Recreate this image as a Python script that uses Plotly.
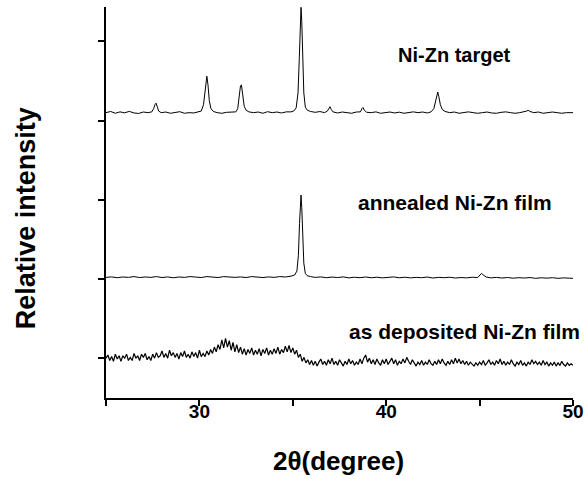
import plotly.graph_objects as go

# ---------------- data ----------------
# Ni-Zn target pattern (offset stack level ~3.1)
target_x = [25.0, 25.25, 25.5, 25.75, 26.0, 26.25, 26.5, 26.75, 27.0, 27.25, 27.45, 27.55, 27.62, 27.68, 27.75, 27.82, 27.95,
            28.2, 28.45, 28.7, 28.95, 29.2, 29.45, 29.7, 29.95, 30.1, 30.22, 30.3, 30.36, 30.4, 30.46, 30.53, 30.62, 30.75, 30.95,
            31.2, 31.45, 31.7, 31.95, 32.05, 32.13, 32.2, 32.25, 32.31, 32.4, 32.5, 32.65, 32.9, 33.15, 33.4, 33.65, 33.9,
            34.15, 34.4, 34.65, 34.9, 35.05, 35.18, 35.28, 35.35, 35.41, 35.44, 35.48, 35.53, 35.59, 35.67, 35.78, 35.95,
            36.2, 36.45, 36.7, 36.85, 36.93, 36.99, 37.06, 37.15, 37.4, 37.65, 37.9, 38.15, 38.4, 38.62, 38.7, 38.76, 38.83, 38.95,
            39.2, 39.45, 39.7, 39.95, 40.2, 40.45, 40.7, 40.95, 41.2, 41.45, 41.7, 41.95, 42.2, 42.4, 42.55, 42.65, 42.72, 42.76,
            42.82, 42.9, 43.0, 43.15, 43.4, 43.65, 43.9, 44.15, 44.4, 44.65, 44.9, 45.15, 45.4, 45.65, 45.9, 46.15, 46.4, 46.65,
            46.9, 47.15, 47.4, 47.52, 47.6, 47.7, 47.9, 48.15, 48.4, 48.65, 48.9, 49.15, 49.4, 49.65, 49.9, 50.0]
target_y = [3.10, 3.115, 3.092, 3.11, 3.098, 3.116, 3.096, 3.09, 3.108, 3.10, 3.11, 3.15, 3.20, 3.22, 3.17, 3.12, 3.10,
            3.108, 3.092, 3.104, 3.112, 3.092, 3.10, 3.096, 3.108, 3.12, 3.20, 3.40, 3.54, 3.56, 3.45, 3.25, 3.15, 3.115, 3.10,
            3.092, 3.104, 3.108, 3.11, 3.15, 3.30, 3.44, 3.45, 3.33, 3.18, 3.13, 3.11, 3.10, 3.108, 3.092, 3.112, 3.10,
            3.108, 3.096, 3.11, 3.11, 3.12, 3.16, 3.35, 3.80, 4.30, 4.43, 4.25, 3.75, 3.35, 3.17, 3.13, 3.115,
            3.104, 3.114, 3.10, 3.12, 3.16, 3.175, 3.14, 3.11, 3.096, 3.108, 3.10, 3.092, 3.108, 3.11, 3.15, 3.165, 3.13, 3.105,
            3.10, 3.11, 3.092, 3.10, 3.108, 3.096, 3.106, 3.092, 3.10, 3.11, 3.10, 3.108, 3.096, 3.11, 3.15, 3.25, 3.34, 3.36,
            3.30, 3.20, 3.14, 3.115, 3.10, 3.108, 3.092, 3.10, 3.11, 3.10, 3.092, 3.10, 3.108, 3.096, 3.092, 3.104, 3.11, 3.10,
            3.092, 3.10, 3.108, 3.12, 3.13, 3.115, 3.10, 3.108, 3.092, 3.10, 3.108, 3.10, 3.092, 3.10, 3.106, 3.10]

# annealed Ni-Zn film (offset stack level ~1.02)
anneal_x = [25.0, 25.3, 25.6, 25.9, 26.2, 26.5, 26.8, 27.1, 27.4, 27.7, 28.0, 28.3, 28.6, 28.9, 29.2, 29.5, 29.8, 30.1,
            30.4, 30.7, 31.0, 31.3, 31.6, 31.9, 32.2, 32.5, 32.8, 33.1, 33.4, 33.7, 34.0, 34.3, 34.6, 34.9, 35.1, 35.22,
            35.3, 35.36, 35.41, 35.44, 35.48, 35.53, 35.59, 35.67, 35.78, 35.95, 36.2, 36.5, 36.8, 37.1, 37.4, 37.7, 38.0,
            38.3, 38.6, 38.9, 39.2, 39.5, 39.8, 40.1, 40.4, 40.7, 41.0, 41.3, 41.6, 41.9, 42.2, 42.5, 42.8, 43.1, 43.4, 43.7,
            44.0, 44.3, 44.6, 44.9, 45.0, 45.1, 45.2, 45.35, 45.6, 45.9, 46.2, 46.5, 46.8, 47.1, 47.4, 47.7, 48.0, 48.3,
            48.6, 48.9, 49.2, 49.5, 49.8, 50.0]
anneal_y = [1.02, 1.026, 1.016, 1.025, 1.02, 1.03, 1.018, 1.025, 1.02, 1.03, 1.018, 1.026, 1.015, 1.025, 1.02, 1.03, 1.024, 1.018,
            1.03, 1.024, 1.018, 1.03, 1.025, 1.02, 1.026, 1.018, 1.03, 1.024, 1.018, 1.026, 1.02, 1.03, 1.025, 1.035, 1.05, 1.10,
            1.30, 1.70, 2.00, 2.06, 1.90, 1.50, 1.20, 1.07, 1.04, 1.03, 1.02, 1.026, 1.016, 1.024, 1.018, 1.026, 1.014,
            1.022, 1.016, 1.025, 1.015, 1.022, 1.014, 1.02, 1.026, 1.015, 1.022, 1.014, 1.02, 1.016, 1.024, 1.012, 1.02, 1.016,
            1.022, 1.012, 1.018, 1.014, 1.022, 1.018, 1.045, 1.07, 1.05, 1.025, 1.014, 1.02, 1.012, 1.018, 1.01, 1.016, 1.012,
            1.018, 1.008, 1.015, 1.01, 1.016, 1.008, 1.014, 1.01, 1.008]

# as deposited Ni-Zn film, sampled every 0.1 deg from 25.0 to 50.0
dep_start = 25.0
dep_step = 0.1
dep_y = [
    0.00, 0.04, -0.03, 0.02, -0.04, 0.05, -0.01, 0.03, -0.04, 0.03,
    0.00, 0.05, -0.03, 0.01, -0.03, 0.06, 0.00, 0.03, -0.03, 0.05,
    0.01, 0.06, -0.02, 0.02, -0.03, 0.05, 0.00, 0.07, 0.01, 0.03,
    0.09, 0.01, 0.06, 0.00, 0.10, 0.03, 0.07, 0.01, 0.06, -0.01,
    0.07, 0.02, 0.09, 0.01, 0.05, 0.00, 0.08, 0.02, 0.07, 0.00,
    0.10, 0.02, 0.06, 0.02, 0.09, 0.04, 0.11, 0.06, 0.14, 0.08,
    0.17, 0.11, 0.23, 0.13, 0.25, 0.14, 0.22, 0.10, 0.20, 0.08,
    0.17, 0.07, 0.14, 0.05, 0.12, 0.04, 0.11, 0.06, 0.13, 0.04,
    0.10, 0.05, 0.12, 0.03, 0.11, 0.06, 0.13, 0.04, 0.10, 0.05,
    0.12, 0.06, 0.14, 0.05, 0.11, 0.07, 0.15, 0.08, 0.16, 0.07,
    0.13, 0.05, 0.10, 0.01, 0.05, -0.04, 0.01, -0.06, -0.02, -0.08,
    -0.03, -0.09, -0.04, -0.10, -0.05, -0.01, -0.08, -0.04, -0.09, -0.02,
    -0.07, 0.00, -0.08, -0.04, -0.09, -0.02, -0.06, -0.10, -0.04, -0.08,
    -0.01, -0.07, -0.03, -0.09, -0.05, -0.08, -0.01, -0.07, 0.00, 0.04,
    -0.05, 0.00, -0.07, -0.02, -0.08, -0.01, -0.06, -0.09, -0.02, -0.07,
    -0.01, -0.08, -0.04, 0.00, -0.07, -0.02, -0.09, -0.04, -0.07, -0.01,
    -0.06, 0.01, -0.04, -0.08, -0.02, -0.07, -0.10, -0.05, -0.08, -0.03,
    -0.09, -0.05, -0.08, -0.02, -0.07, -0.09, -0.04, -0.08, -0.02, -0.07,
    -0.01, -0.06, -0.09, -0.04, -0.08, -0.02, -0.07, 0.00, -0.06, -0.01,
    -0.07, -0.03, -0.08, -0.04, -0.09, -0.05, -0.08, -0.10, -0.06, -0.09,
    -0.05, -0.08, -0.03, -0.09, -0.06, -0.02, -0.08, -0.05, -0.09, -0.03,
    -0.07, -0.01, -0.08, -0.04, -0.09, -0.05, -0.08, -0.02, -0.07, -0.10,
    -0.05, -0.08, -0.03, -0.09, -0.06, -0.10, -0.05, -0.08, -0.02, -0.07,
    -0.04, -0.08, -0.05, -0.09, -0.03, -0.08, -0.05, -0.10, -0.06, -0.09,
    -0.05, -0.10, -0.06, -0.09, -0.04, -0.08, -0.10, -0.06, -0.09, -0.07,
    -0.09,
]
dep_x = [round(dep_start + dep_step * i, 2) for i in range(len(dep_y))]

x_tickvals = [25, 30, 35, 40, 45, 50]
x_ticktext = ["", "30", "", "40", "", "50"]
y_tickvals = [0, 1, 2, 3, 4]

labels = ["Ni-Zn target", "annealed Ni-Zn film", "as deposited Ni-Zn film"]
label_x = [43.66, 43.67, 44.2]
label_y = [3.83, 1.96, 0.34]
label_size = [20, 21, 21]

FONT = "Liberation Sans, Arial, Helvetica, sans-serif"

fig = go.Figure()
for xs, ys, w in [(target_x, target_y, 1), (anneal_x, anneal_y, 1), (dep_x, dep_y, 1.2)]:
    fig.add_trace(go.Scatter(x=xs, y=ys, mode="lines",
                             line=dict(color="black", width=w), showlegend=False,
                             hoverinfo="skip"))

for t, lx, ly, s in zip(labels, label_x, label_y, label_size):
    fig.add_annotation(x=lx, y=ly, xref="x", yref="y", text=t, showarrow=False,
                       font=dict(family=FONT, size=s, color="black", weight="bold"),
                       xanchor="center", yanchor="middle")

# axis titles
fig.add_annotation(x=0.4985, y=-0.161, xref="paper", yref="paper", text="2θ(degree)",
                   showarrow=False, xanchor="center", yanchor="middle",
                   font=dict(family=FONT, size=26, color="black", weight="bold"))
fig.add_annotation(x=-0.172, y=0.459, xref="paper", yref="paper", text="Relative intensity",
                   showarrow=False, xanchor="center", yanchor="middle", textangle=-90,
                   font=dict(family=FONT, size=27, color="black", weight="bold"))

fig.update_layout(
    width=584, height=479,
    margin=dict(l=106, r=11, t=7, b=81, pad=0, autoexpand=False),
    plot_bgcolor="white", paper_bgcolor="white",
    xaxis=dict(range=[25, 50], tickmode="array", tickvals=x_tickvals, ticktext=x_ticktext,
               showline=True, linecolor="black", linewidth=1.5, mirror=False,
               ticks="outside", ticklen=6, tickwidth=1.5, tickcolor="black",
               showgrid=False, zeroline=False, ticklabelstandoff=-11, automargin=False,
               tickfont=dict(family=FONT, size=19, color="black", weight="bold")),
    yaxis=dict(range=[-0.503, 4.434], tickmode="array", tickvals=y_tickvals,
               showticklabels=False, showline=True, linecolor="black", linewidth=1.5,
               ticks="outside", ticklen=6, tickwidth=1.5, tickcolor="black",
               showgrid=False, zeroline=False, automargin=False),
)

fig.write_html("out.html", config={"displayModeBar": False},
               post_script="document.body.style.margin='0';document.body.style.overflow='hidden';")
